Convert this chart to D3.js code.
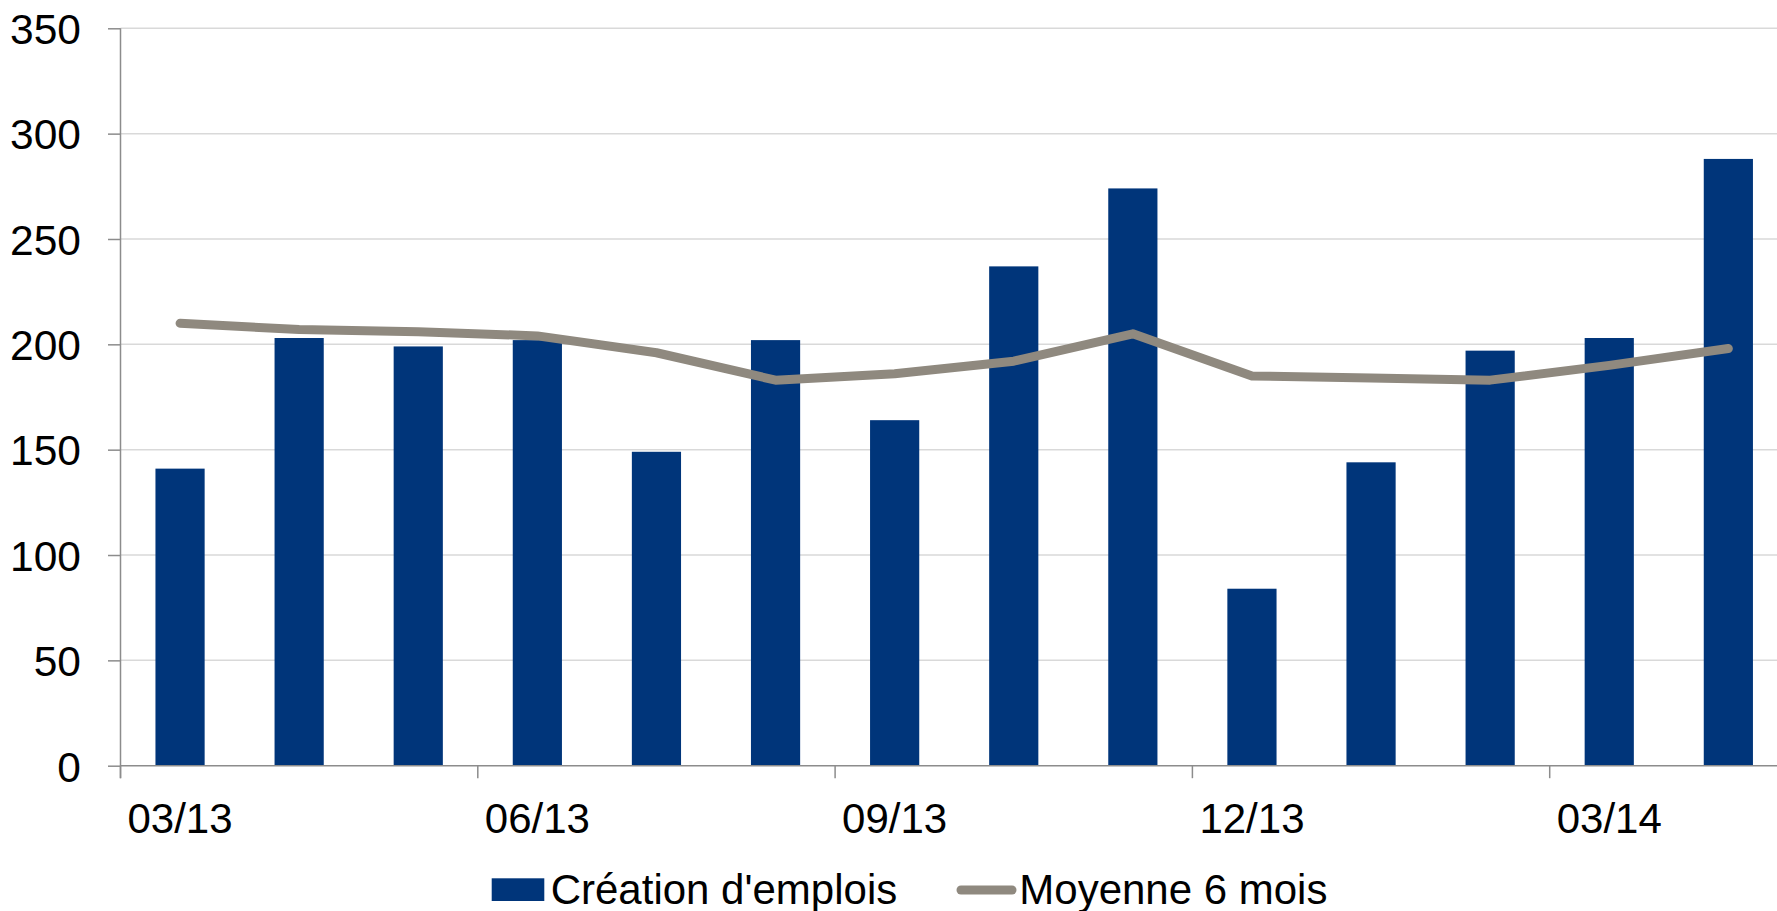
<!DOCTYPE html>
<html>
<head>
<meta charset="utf-8">
<script src="https://cdn.jsdelivr.net/npm/d3@7/dist/d3.min.js"></script>
<style>
  html, body { margin: 0; padding: 0; background: #fff; overflow: hidden; }
  svg { display: block; font-family: "Liberation Sans", Arial, sans-serif; }
</style>
</head>
<body>
<svg id="chart" width="1777" height="911"></svg>
<script>
// monthly job creation (thousands) and its 6-month moving average
var months = ['03/13', '04/13', '05/13', '06/13', '07/13', '08/13', '09/13',
              '10/13', '11/13', '12/13', '01/14', '02/14', '03/14', '04/14'];
var jobs = [141, 203, 199, 202, 149, 202, 164, 237, 274, 84, 144, 197, 203, 288];
var avg6 = [210, 207, 206, 204, 196, 183, 186, 192, 205, 185, 184, 183, 190, 198];
var yTicks = [0, 50, 100, 150, 200, 250, 300, 350];
var xTickLabels = ['03/13', '06/13', '09/13', '12/13', '03/14'];
var legendLabels = ["Création d'emplois", 'Moyenne 6 mois'];

var barColor = '#00357a',
    lineColor = '#8f897f',
    gridColor = '#d9d9d9',
    axisColor = '#8c8c8c';

var svg = d3.select('#chart');

var plotLeft = 120.5, plotTop = 28.3, plotBottom = 765.7;
var step = 119.1;
var pad = 0.587;

var x = d3.scaleBand()
    .domain(months)
    .range([plotLeft, plotLeft + months.length * step])
    .paddingInner(pad)
    .paddingOuter(pad / 2);

var y = d3.scaleLinear()
    .domain([0, 350])
    .range([plotBottom, plotTop]);

// horizontal gridlines
svg.append('g')
  .selectAll('line')
  .data(yTicks.filter(function(d) { return d > 0; }))
  .enter()
    .append('line')
    .attr('x1', plotLeft)
    .attr('x2', 1777)
    .attr('y1', function(d) { return y(d); })
    .attr('y2', function(d) { return y(d); })
    .style('stroke', gridColor)
    .style('stroke-width', 1.5);

// bars
svg.append('g')
  .selectAll('rect')
  .data(jobs)
  .enter()
    .append('rect')
    .attr('x', function(d, i) { return x(months[i]); })
    .attr('y', function(d) { return y(d); })
    .attr('width', x.bandwidth())
    .attr('height', function(d) { return y(0) - y(d); })
    .style('fill', barColor);

// y axis
var yAxis = d3.axisLeft(y)
    .tickValues(yTicks)
    .tickSize(12.5)
    .tickPadding(27);

var gy = svg.append('g')
    .attr('transform', 'translate(' + plotLeft + ',0)')
    .call(yAxis);
gy.select('.domain').remove();
gy.append('line')
    .attr('x1', 0).attr('x2', 0)
    .attr('y1', plotTop).attr('y2', plotBottom + 12.5)
    .style('stroke', axisColor)
    .style('stroke-width', 1.5);
gy.selectAll('.tick line').style('stroke', axisColor).style('stroke-width', 1.5);
gy.selectAll('.tick text')
    .style('font-size', '42.5px')
    .style('font-family', '"Liberation Sans", Arial, sans-serif')
    .style('fill', '#000')
    .attr('dy', '0.36em');

// x axis line
svg.append('line')
    .attr('x1', plotLeft).attr('x2', 1777)
    .attr('y1', y(0)).attr('y2', y(0))
    .style('stroke', axisColor)
    .style('stroke-width', 1.5);

// x ticks every three months, at the left edge of the category
var half = step * pad / 2;
var gx = svg.append('g');
gx.selectAll('line')
  .data(xTickLabels)
  .enter()
    .append('line')
    .attr('x1', function(d) { return x(d) - half; })
    .attr('x2', function(d) { return x(d) - half; })
    .attr('y1', y(0))
    .attr('y2', y(0) + 12.5)
    .style('stroke', axisColor)
    .style('stroke-width', 1.5);
gx.selectAll('text')
  .data(xTickLabels)
  .enter()
    .append('text')
    .attr('x', function(d) { return x(d) + x.bandwidth() / 2; })
    .attr('y', 833)
    .attr('text-anchor', 'middle')
    .style('font-size', '42px')
    .style('fill', '#000')
    .text(function(d) { return d; });

// 6-month average line
var line = d3.line()
    .x(function(d, i) { return x(months[i]) + x.bandwidth() / 2; })
    .y(function(d) { return y(d); });

svg.append('path')
    .datum(avg6)
    .attr('d', line)
    .style('fill', 'none')
    .style('stroke', lineColor)
    .style('stroke-width', 9)
    .style('stroke-linejoin', 'round')
    .style('stroke-linecap', 'round');

// legend
var lg = svg.append('g');
lg.append('rect')
    .attr('x', 491.7).attr('y', 878.3)
    .attr('width', 52.6).attr('height', 22.7)
    .style('fill', barColor);
lg.append('text')
    .attr('x', 550.7).attr('y', 904)
    .style('font-size', '42px')
    .text(legendLabels[0]);
lg.append('line')
    .attr('x1', 961).attr('x2', 1012)
    .attr('y1', 890).attr('y2', 890)
    .style('stroke', lineColor)
    .style('stroke-width', 9)
    .style('stroke-linecap', 'round');
lg.append('text')
    .attr('x', 1019.3).attr('y', 904)
    .style('font-size', '42px')
    .text(legendLabels[1]);
</script>
</body>
</html>
